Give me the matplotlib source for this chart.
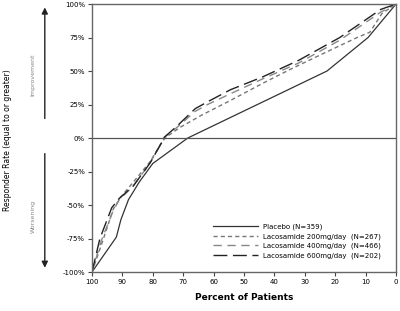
import matplotlib
matplotlib.use("Agg")
import matplotlib.pyplot as plt
from matplotlib.ticker import FuncFormatter

# data (percent of patients, responder rate %)
placebo_x = [100, 92, 90.5, 88, 84.5, 80, 68.5, 22.7, 9.2, 0]
placebo_y = [-100, -74, -61, -46, -33, -19, 0, 50, 75, 100]

lcm200_x = [100, 96.5, 93, 90.5, 85, 81, 77.5, 76, 71, 64, 54.5, 43.7, 35, 24, 12.8, 8.6, 4.6, 0]
lcm200_y = [-100, -77, -53, -44, -29, -18, -5, 0, 8, 17, 28, 41, 51, 63, 75, 79, 93, 100]

lcm400_x = [100, 97, 93, 91, 86.5, 81, 77, 76.5, 72, 66, 62, 54.5, 44, 32, 18.5, 5, 0]
lcm400_y = [-100, -77, -54, -46, -36, -19, -3, 0, 8, 20, 25, 33, 44, 56, 73, 94, 100]

lcm600_x = [100, 97.4, 93.5, 91, 86.5, 81, 77, 76.5, 72, 66, 62, 54.5, 44, 32, 18.5, 5, 0]
lcm600_y = [-100, -75, -52, -45, -36, -19, -3, 0, 9, 22, 27, 36, 45.5, 58, 75, 96, 100]

x_ticks = [100, 90, 80, 70, 60, 50, 40, 30, 20, 10, 0]
y_ticks = [-100, -75, -50, -25, 0, 25, 50, 75, 100]

labels = ["Placebo (N=359)",
          "Lacosamide 200mg/day  (N=267)",
          "Lacosamide 400mg/day  (N=466)",
          "Lacosamide 600mg/day  (N=202)"]

fig = plt.figure(figsize=(4, 3.11), dpi=100)
ax = fig.add_axes([0.23, 0.1254, 0.76, 0.8616])

ax.plot(placebo_x, placebo_y, color="#333333", lw=0.9, label=labels[0])
ax.plot(lcm200_x, lcm200_y, color="#777777", lw=1.0, dashes=(3, 2.2), label=labels[1])
ax.plot(lcm400_x, lcm400_y, color="#888888", lw=1.0, dashes=(6, 4), label=labels[2])
ax.plot(lcm600_x, lcm600_y, color="#222222", lw=1.0, dashes=(10, 4), label=labels[3])

ax.axhline(0, color="#555555", lw=0.9)

ax.set_xlim(100, 0)
ax.set_ylim(-100, 100)
ax.set_xticks(x_ticks)
ax.set_yticks(y_ticks)
ax.yaxis.set_major_formatter(FuncFormatter(lambda v, p: "%d%%" % v))
ax.tick_params(labelsize=5, length=3, width=0.8, color="#444444", pad=2)
for s in ax.spines.values():
    s.set_color("#666666")
    s.set_linewidth(1.0)

ax.set_xlabel("Percent of Patients", fontsize=6.5, fontweight="bold", labelpad=6)

ax.legend(loc="lower right", bbox_to_anchor=(0.97, 0.025), frameon=False,
          fontsize=5, handlelength=6.5, labelspacing=0.45, handletextpad=0.7)

# left side annotations
fig.text(0.02, 0.55, "Responder Rate (equal to or greater)", rotation=90,
         fontsize=5.5, ha="center", va="center")
fig.text(0.083, 0.76, "Improvement", rotation=90, fontsize=4.5,
         color="#888888", ha="center", va="center")
fig.text(0.083, 0.305, "Worsening", rotation=90, fontsize=4.5,
         color="#888888", ha="center", va="center")
ax.annotate("", xy=(0.112, 0.985), xytext=(0.112, 0.61), xycoords="figure fraction",
            arrowprops=dict(arrowstyle="-|>", color="#222222", lw=1.0, mutation_scale=9))
ax.annotate("", xy=(0.112, 0.13), xytext=(0.112, 0.515), xycoords="figure fraction",
            arrowprops=dict(arrowstyle="-|>", color="#222222", lw=1.0, mutation_scale=9))

fig.savefig("out.png", dpi=100)
